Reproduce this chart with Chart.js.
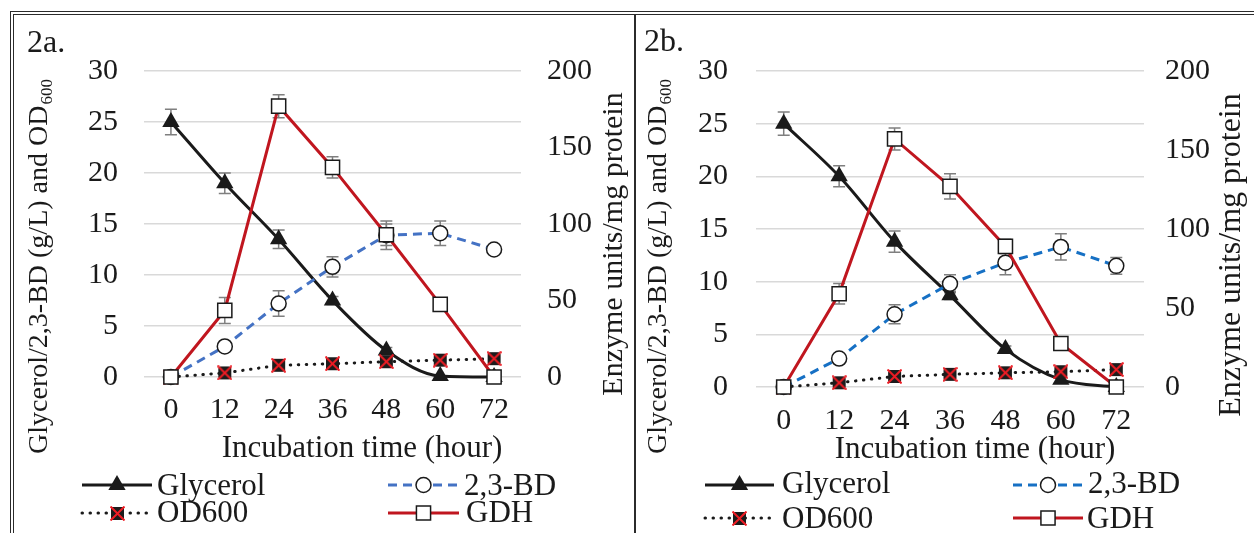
<!DOCTYPE html>
<html>
<head>
<meta charset="utf-8">
<script src="https://cdn.jsdelivr.net/npm/chart.js"></script>
<style>
  body { margin: 0; background: #fff; }
  #wrap { position: relative; width: 1254px; height: 533px; overflow: hidden; background: #fff; }
  canvas { position: absolute; top: 0; }
  #frame { position: absolute; left: 10px; top: 11px; width: 1270px; height: 560px; border: 4px double #2b2b2b; box-sizing: border-box; pointer-events: none; }
  #divider { position: absolute; left: 634px; top: 15px; width: 2px; height: 530px; background: #2b2b2b; }
</style>
</head>
<body>
<div id="wrap">
  <canvas id="chartA" width="635" height="533" style="left:0px"></canvas>
  <canvas id="chartB" width="618" height="533" style="left:636px"></canvas>
  <div id="frame"></div>
  <div id="divider"></div>
</div>
<script>
// incubation time (hour)
const hours = ['0', '12', '24', '36', '48', '60', '72'];

// 2a
const glycerolA = [25, 19, 13.5, 7.5, 2.6, 0.1, 0];
const glycerolErrA = [1.25, 1.0, 0.9, 0.4, 0.3, 0, 0];
const bdA = [0, 3.0, 7.2, 10.8, 13.9, 14.1, 12.5];
const bdErrA = [0, 0, 1.25, 1.0, 1.4, 1.2, 0.4];
const odA = [0, 0.4, 1.15, 1.3, 1.5, 1.65, 1.8];
const gdhA = [0, 43.5, 177, 137, 93, 47.5, 0];
const gdhErrA = [0, 8.5, 7.5, 7, 7, 0, 0];

// 2b
const glycerolB = [25, 20, 13.8, 8.7, 3.6, 0.7, 0];
const glycerolErrB = [1.1, 1.0, 1.0, 0.4, 0.3, 0, 0];
const bdB = [0, 2.7, 6.9, 9.8, 11.8, 13.3, 11.5];
const bdErrB = [0, 0, 0.9, 0.85, 1.15, 1.25, 0.8];
const odB = [0, 0.4, 1.0, 1.2, 1.35, 1.45, 1.65];
const gdhB = [0, 59, 157, 127, 89, 27.5, 0];
const gdhErrB = [0, 6.5, 7, 8, 4.5, 0, 0];

const leftTicks = { min: 0, max: 30, step: 5 };
const rightTicks = { min: 0, max: 200, step: 50 };

const leftTitle = ['Glycerol/2,3-BD (g/L) and OD', '600'];
const rightTitle = 'Enzyme units/mg protein';
const xTitle = 'Incubation time (hour)';
const seriesNames = ['Glycerol', '2,3-BD', 'OD600', 'GDH'];

const SERIF = '"Liberation Serif", "Times New Roman", serif';
const INK = '#1a1a1a';
const RED = '#c0161f';

// black box with a red cross, used as the OD600 marker
function crossBox(size) {
    const c = document.createElement('canvas');
    c.width = c.height = size;
    const g = c.getContext('2d');
    g.fillStyle = '#1c1c1c';
    g.fillRect(1, 1, size - 2, size - 2);
    g.strokeStyle = '#ee1c24';
    g.lineWidth = 2;
    g.beginPath();
    g.moveTo(0.5, 0.5); g.lineTo(size - 0.5, size - 0.5);
    g.moveTo(size - 0.5, 0.5); g.lineTo(0.5, size - 0.5);
    g.stroke();
    return c;
}
const odMarker = crossBox(15);

function drawMarker(ctx, ds, x, y) {
    const st = ds.pointStyle;
    const r = ds.pointRadius;
    ctx.save();
    if (st instanceof HTMLCanvasElement) {
        ctx.drawImage(st, Math.round(x - st.width / 2), Math.round(y - st.height / 2));
        ctx.restore();
        return;
    }
    ctx.fillStyle = ds.pointBackgroundColor;
    ctx.strokeStyle = ds.pointBorderColor;
    ctx.lineWidth = ds.pointBorderWidth;
    ctx.beginPath();
    if (st === 'triangle') {
        let a = 0;
        ctx.moveTo(x + Math.sin(a) * r, y - Math.cos(a) * r);
        a += 2 * Math.PI / 3;
        ctx.lineTo(x + Math.sin(a) * r, y - Math.cos(a) * r);
        a += 2 * Math.PI / 3;
        ctx.lineTo(x + Math.sin(a) * r, y - Math.cos(a) * r);
        ctx.closePath();
    } else if (st === 'rect') {
        const s = r * Math.SQRT1_2;
        ctx.rect(x - s, y - s, 2 * s, 2 * s);
    } else {
        ctx.arc(x, y, r, 0, Math.PI * 2);
    }
    ctx.fill();
    if (ds.pointBorderWidth) ctx.stroke();
    ctx.restore();
}

const decor = {
    id: 'decor',
    beforeDatasetsDraw(chart) {
        // error bars
        const ctx = chart.ctx;
        ctx.save();
        ctx.strokeStyle = '#7f7f7f';
        ctx.lineWidth = 1.5;
        chart.data.datasets.forEach((ds, i) => {
            if (!ds.errors) return;
            const meta = chart.getDatasetMeta(i);
            const ys = chart.scales[ds.yAxisID];
            meta.data.forEach((pt, j) => {
                const e = ds.errors[j];
                if (!e) return;
                const top = ys.getPixelForValue(ds.data[j] + e);
                const bot = ys.getPixelForValue(ds.data[j] - e);
                ctx.beginPath();
                ctx.moveTo(pt.x, top); ctx.lineTo(pt.x, bot);
                ctx.moveTo(pt.x - 6, top); ctx.lineTo(pt.x + 6, top);
                ctx.moveTo(pt.x - 6, bot); ctx.lineTo(pt.x + 6, bot);
                ctx.stroke();
            });
        });
        ctx.restore();
    },
    afterDraw(chart, args, o) {
        const ctx = chart.ctx;
        ctx.save();
        ctx.fillStyle = INK;
        ctx.textBaseline = 'alphabetic';
        ctx.textAlign = 'left';

        // panel tag
        ctx.font = '32px ' + SERIF;
        ctx.fillText(o.tag, o.tagX, o.tagY);

        // left title with subscript
        ctx.font = '28px ' + SERIF;
        const w1 = ctx.measureText(leftTitle[0]).width;
        ctx.font = '17px ' + SERIF;
        const w2 = ctx.measureText(leftTitle[1]).width;
        ctx.save();
        ctx.translate(o.leftX, o.leftCY + (w1 + w2) / 2);
        ctx.rotate(-Math.PI / 2);
        ctx.font = '28px ' + SERIF;
        ctx.fillText(leftTitle[0], 0, 0);
        ctx.font = '17px ' + SERIF;
        ctx.fillText(leftTitle[1], w1 + 1, 5);
        ctx.restore();

        // right title (reads bottom to top)
        ctx.font = o.rightSize + 'px ' + SERIF;
        const w3 = ctx.measureText(rightTitle).width;
        ctx.save();
        ctx.translate(o.rightX, o.rightCY + w3 / 2);
        ctx.rotate(-Math.PI / 2);
        ctx.fillText(rightTitle, 0, 0);
        ctx.restore();

        // x title
        ctx.font = '31px ' + SERIF;
        ctx.textAlign = 'center';
        ctx.fillText(xTitle, o.xTitleX, o.xTitleY);
        ctx.textAlign = 'left';

        // legend, two columns
        chart.data.datasets.forEach((ds, i) => {
            const col = i % 2, row = Math.floor(i / 2);
            const x0 = o.legCols[col], x1 = x0 + o.legLen[col];
            const y = o.legRows[row];
            ctx.save();
            ctx.strokeStyle = ds.borderColor;
            ctx.lineWidth = ds.borderWidth;
            ctx.lineCap = ds.borderCapStyle || 'butt';
            ctx.setLineDash(ds.borderDash || []);
            ctx.beginPath();
            ctx.moveTo(x0, y); ctx.lineTo(x1, y);
            ctx.stroke();
            ctx.restore();
            drawMarker(ctx, ds, (x0 + x1) / 2, y);
            ctx.font = '31px ' + SERIF;
            ctx.fillStyle = INK;
            ctx.fillText(ds.label, o.legText[i], o.legBase[row]);
        });
        ctx.restore();
    }
};

function makeDatasets(gly, glyErr, bd, bdErr, od, gdh, gdhErr, blue) {
    return [{
        label: seriesNames[0], data: gly, errors: glyErr, yAxisID: 'y', order: 4,
        borderColor: INK, borderWidth: 3, cubicInterpolationMode: 'monotone',
        pointStyle: 'triangle', pointRadius: 10, pointBackgroundColor: INK,
        pointBorderColor: INK, pointBorderWidth: 0
    }, {
        label: seriesNames[1], data: bd, errors: bdErr, yAxisID: 'y', order: 3,
        borderColor: blue, borderWidth: 3, borderDash: [9, 6],
        pointStyle: 'circle', pointRadius: 7.5, pointBackgroundColor: '#fff',
        pointBorderColor: INK, pointBorderWidth: 1.5
    }, {
        label: seriesNames[2], data: od, yAxisID: 'y', order: 2,
        borderColor: INK, borderWidth: 3, borderDash: [0.5, 7.5], borderCapStyle: 'round',
        pointStyle: odMarker, pointRadius: 7, pointBackgroundColor: INK,
        pointBorderColor: INK, pointBorderWidth: 0
    }, {
        label: seriesNames[3], data: gdh, errors: gdhErr, yAxisID: 'y2', order: 1,
        borderColor: RED, borderWidth: 3,
        pointStyle: 'rect', pointRadius: 10, pointBackgroundColor: '#fff',
        pointBorderColor: INK, pointBorderWidth: 1.5
    }];
}

function makeChart(id, datasets, lay, deco) {
    const tickFont = { family: SERIF, size: 30 };
    new Chart(document.getElementById(id), {
        type: 'line',
        data: { labels: hours, datasets: datasets },
        options: {
            responsive: false,
            animation: false,
            events: [],
            clip: false,
            layout: { padding: { top: lay.top, left: 0, right: 0, bottom: 0 } },
            datasets: { line: { clip: false, tension: 0 } },
            plugins: { legend: { display: false }, tooltip: { enabled: false }, decor: deco },
            scales: {
                x: {
                    offset: true,
                    grid: { display: false, drawTicks: false },
                    border: { display: false },
                    ticks: { font: tickFont, color: INK, padding: lay.xPad, maxRotation: 0 },
                    afterFit: s => { s.height = lay.xH; }
                },
                y: {
                    position: 'left',
                    min: leftTicks.min, max: leftTicks.max,
                    grid: { color: '#d9d9d9', lineWidth: 1.5, drawTicks: false },
                    border: { display: false },
                    ticks: { stepSize: leftTicks.step, font: tickFont, color: INK, padding: lay.lPad },
                    afterFit: s => { s.width = lay.lW; }
                },
                y2: {
                    position: 'right',
                    min: rightTicks.min, max: rightTicks.max,
                    grid: { drawOnChartArea: false, drawTicks: false },
                    border: { display: false },
                    ticks: { stepSize: rightTicks.step, font: tickFont, color: INK, padding: lay.rPad },
                    afterFit: s => { s.width = lay.rW; }
                }
            }
        },
        plugins: [decor]
    });
}

makeChart('chartA',
    makeDatasets(glycerolA, glycerolErrA, bdA, bdErrA, odA, gdhA, gdhErrA, '#4472c4'),
    { top: 71, xH: 533 - 377, xPad: 15, lW: 144, lPad: 26, rW: 635 - 521, rPad: 26 },
    {
        tag: '2a.', tagX: 27, tagY: 52,
        leftX: 47, leftCY: 267,
        rightX: 622, rightCY: 244, rightSize: 30,
        xTitleX: 362, xTitleY: 457,
        legCols: [82, 388], legLen: [70, 71], legRows: [485, 513], legBase: [495, 522],
        legText: [157, 464, 157, 466]
    });

makeChart('chartB',
    makeDatasets(glycerolB, glycerolErrB, bdB, bdErrB, odB, gdhB, gdhErrB, '#1670c4'),
    { top: 71, xH: 533 - 387, xPad: 16, lW: 120, lPad: 28, rW: 618 - 508, rPad: 21 },
    {
        tag: '2b.', tagX: 644 - 636, tagY: 51,
        leftX: 666 - 636, leftCY: 267,
        rightX: 1240 - 636, rightCY: 255, rightSize: 32,
        xTitleX: 975 - 636, xTitleY: 458,
        legCols: [705 - 636, 1013 - 636], legLen: [69, 70], legRows: [485, 518], legBase: [493, 528],
        legText: [782 - 636, 1088 - 636, 782 - 636, 1087 - 636]
    });
</script>
</body>
</html>
